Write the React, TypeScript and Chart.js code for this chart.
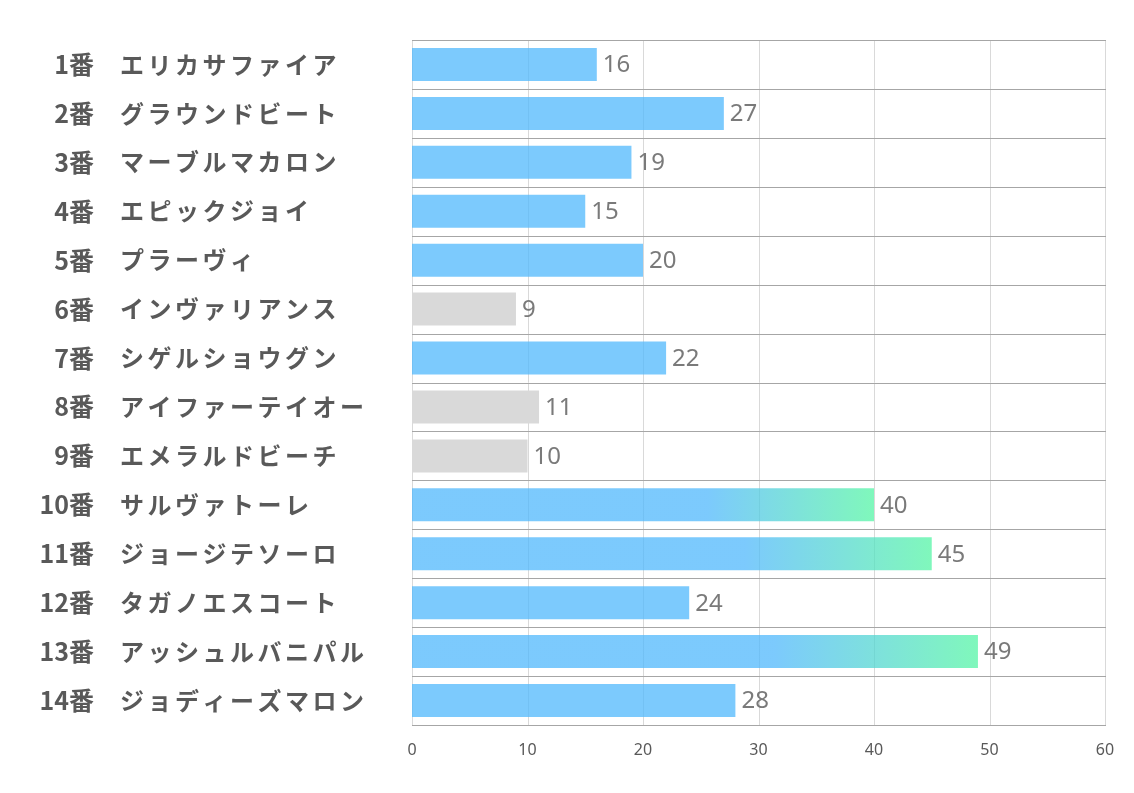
import React, { useEffect, useRef } from "react";
import { Chart, registerables } from "chart.js";

Chart.register(...registerables);

const numbers = ["1番", "2番", "3番", "4番", "5番", "6番", "7番", "8番", "9番", "10番", "11番", "12番", "13番", "14番"];
const names = [
  "エリカサファイア",
  "グラウンドビート",
  "マーブルマカロン",
  "エピックジョイ",
  "プラーヴィ",
  "インヴァリアンス",
  "シゲルショウグン",
  "アイファーテイオー",
  "エメラルドビーチ",
  "サルヴァトーレ",
  "ジョージテソーロ",
  "タガノエスコート",
  "アッシュルバニパル",
  "ジョディーズマロン",
];
const values = [16, 27, 19, 15, 20, 9, 22, 11, 10, 40, 45, 24, 49, 28];
// style per bar: "b" = blue, "g" = gray, "x" = blue→green gradient
const styles = ["b", "b", "b", "b", "b", "g", "b", "g", "g", "x", "x", "b", "x", "b"];
const xTicks = [0, 10, 20, 30, 40, 50, 60];

const BLUE = "rgba(80,184,252,0.75)";
const GREEN = "rgba(85,245,165,0.75)";
const GRAY = "#d9d9d9";

const gridPlugin = {
  id: "gridLines",
  beforeDatasetsDraw(chart: any) {
    const ctx = chart.ctx;
    const y = chart.scales.y;
    const x = chart.scales.x;
    const a = chart.chartArea;
    ctx.save();
    ctx.lineWidth = 1;
    ctx.strokeStyle = "#d9d9d9";
    xTicks.forEach((v) => {
      const px = Math.round(x.getPixelForValue(v)) + 0.5;
      ctx.beginPath();
      ctx.moveTo(px, a.top);
      ctx.lineTo(px, a.bottom);
      ctx.stroke();
    });
    ctx.strokeStyle = "#a6a6a6";
    for (let i = 0; i <= names.length; i++) {
      const py = Math.round(y.getPixelForValue(i - 0.5)) + 0.5;
      ctx.beginPath();
      ctx.moveTo(a.left, py);
      ctx.lineTo(a.right + 1, py);
      ctx.stroke();
    }
    ctx.restore();
  },
};

const labelPlugin = {
  id: "leftLabels",
  afterDraw(chart: any) {
    const ctx = chart.ctx;
    const y = chart.scales.y;
    ctx.save();
    ctx.fillStyle = "#595959";
    ctx.textBaseline = "middle";
    numbers.forEach((n, i) => {
      const py = y.getPixelForValue(i);
      ctx.font = "bold 25px 'Noto Sans CJK JP'";
      (ctx as any).letterSpacing = "0px";
      ctx.textAlign = "right";
      ctx.fillText(n, 94, py);
      ctx.font = "bold 24px 'Noto Sans CJK JP'";
      ctx.textAlign = "left";
      (ctx as any).letterSpacing = "3.5px";
      ctx.fillText(names[i], 120, py);
    });
    (ctx as any).letterSpacing = "0px";
    ctx.restore();
  },
};

const valuePlugin = {
  id: "valueLabels",
  afterDatasetsDraw(chart: any) {
    const ctx = chart.ctx;
    const meta = chart.getDatasetMeta(0);
    ctx.save();
    ctx.fillStyle = "#7a7a7a";
    ctx.font = "24px 'Noto Sans'";
    ctx.textAlign = "left";
    ctx.textBaseline = "middle";
    meta.data.forEach((el: any, i: number) => {
      ctx.fillText(String(values[i]), el.x + 6, el.y + 1);
    });
    ctx.restore();
  },
};

export default function App() {
  const ref = useRef<HTMLCanvasElement>(null);
  useEffect(() => {
    if (!ref.current) return;
    const chart = new Chart(ref.current, {
      type: "bar",
      data: {
        labels: names,
        datasets: [
          {
            data: values,
            backgroundColor: (c: any) => {
              const i = c.dataIndex;
              const s = styles[i];
              if (s === "g") return GRAY;
              if (s === "b") return BLUE;
              const sx = c.chart.scales && c.chart.scales.x;
              if (!sx || !isFinite(sx.getPixelForValue(0))) return BLUE;
              const x0 = sx.getPixelForValue(0);
              const x1 = sx.getPixelForValue(values[i]);
              const g = c.chart.ctx.createLinearGradient(x0, 0, x1, 0);
              g.addColorStop(0, BLUE);
              g.addColorStop(0.64, BLUE);
              g.addColorStop(1, GREEN);
              return g;
            },
            borderWidth: 0,
            barPercentage: 0.675,
            categoryPercentage: 1,
          },
        ],
      },
      options: {
        indexAxis: "y",
        responsive: false,
        animation: false,
        layout: { padding: { top: 40, right: 29, left: 0, bottom: 0 } },
        plugins: { legend: { display: false }, tooltip: { enabled: false }, title: { display: false } },
        scales: {
          x: {
            min: 0,
            max: 60,
            afterBuildTicks: (s: any) => {
              s.ticks = xTicks.map((v) => ({ value: v }));
            },
            afterFit: (s: any) => {
              s.height = 68;
            },
            grid: { display: false, drawTicks: false },
            border: { display: false },
            ticks: {
              padding: 16,
              color: "#595959",
              font: { family: "'Noto Sans'", size: 16 },
            },
          },
          y: {
            afterFit: (s: any) => {
              s.width = 412;
            },
            grid: { display: false },
            border: { display: false },
            ticks: { display: false },
          },
        },
      },
      plugins: [gridPlugin, labelPlugin, valuePlugin],
    } as any);
    return () => chart.destroy();
  }, []);
  return (
    <div style={{ position: "fixed", left: 0, top: 0, width: 1134, height: 793, background: "#fff" }}>
      <canvas ref={ref} width={1134} height={793} style={{ display: "block" }} />
    </div>
  );
}
